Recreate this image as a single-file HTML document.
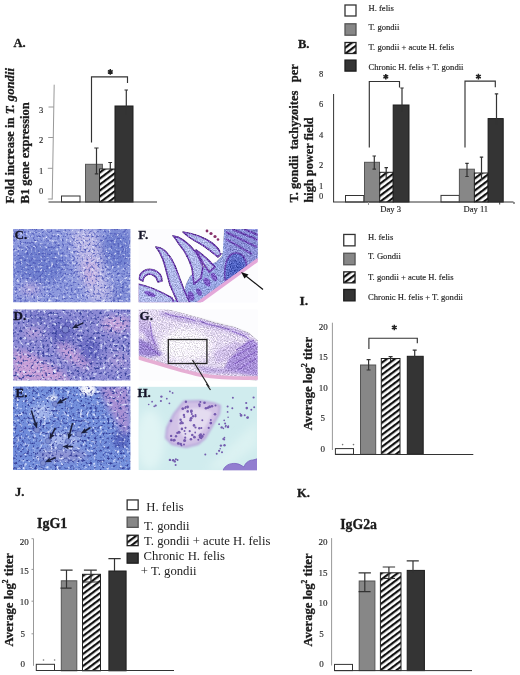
<!DOCTYPE html>
<html><head><meta charset="utf-8"><style>
html,body{margin:0;padding:0;background:#fff;width:520px;height:675px;overflow:hidden}
svg{display:block;filter:blur(0.3px)}
text{font-family:"Liberation Serif",serif}
.lab{font-weight:bold;font-size:12.5px;fill:#1a1a1a;stroke:#1a1a1a;stroke-width:0.3px}
.tk{font-size:8.5px;fill:#2a2a2a;stroke:#2a2a2a;stroke-width:0.15px}
.lg{font-size:8.6px;fill:#1e1e1e;stroke:#1e1e1e;stroke-width:0.15px}
.yl{font-weight:bold;font-size:13px;fill:#1a1a1a;stroke:#1a1a1a;stroke-width:0.3px}
.ax{stroke:#999;stroke-width:1;fill:none}
.axd{stroke:#333;stroke-width:1;fill:none}
.er{stroke:#333;stroke-width:1.2;fill:none}
.wb{fill:#fff;stroke:#333;stroke-width:1}
.gb{fill:#878787;stroke:#555;stroke-width:1}
.bb{fill:#343434;stroke:#1c1c1c;stroke-width:1}
.hb{fill:url(#hatch);stroke:#222;stroke-width:1}
.br{stroke:#333;stroke-width:1.15;fill:none}
.lsq{stroke-width:1.3}
.plab{font-weight:bold;font-size:13px;fill:#141428;stroke:#141428;stroke-width:0.3px}
</style></head><body>
<svg width="520" height="675" viewBox="0 0 520 675">
<defs>
<pattern id="hatch" patternUnits="userSpaceOnUse" width="4.8" height="10" patternTransform="rotate(53)">
<rect width="4.8" height="10" fill="#fff"/><rect width="2.2" height="10" fill="#111"/>
</pattern>
<clipPath id="clipC"><rect x="13.1" y="229" width="117.3" height="73.3"/></clipPath>
<clipPath id="clipD"><rect x="13.1" y="309.6" width="117.3" height="70.8"/></clipPath>
<clipPath id="clipE"><rect x="13.1" y="386.5" width="117.3" height="83.5"/></clipPath>
<clipPath id="clipF"><rect x="138.7" y="229" width="119.1" height="73.3"/></clipPath>
<clipPath id="clipG"><rect x="138.7" y="309.6" width="119.1" height="70.8"/></clipPath>
<clipPath id="clipH"><rect x="138.7" y="386.8" width="118.3" height="83.4"/></clipPath>
<filter id="bl4" x="-50%" y="-50%" width="200%" height="200%"><feGaussianBlur stdDeviation="4"/></filter>
<filter id="bl3" x="-50%" y="-50%" width="200%" height="200%"><feGaussianBlur stdDeviation="3"/></filter>
<filter id="bl1" x="-50%" y="-50%" width="200%" height="200%"><feGaussianBlur stdDeviation="1"/></filter>
<filter id="tx" x="0" y="0" width="100%" height="100%" color-interpolation-filters="sRGB">
<feTurbulence type="fractalNoise" baseFrequency="0.65" numOctaves="2" seed="4" result="n"/>
<feColorMatrix in="n" type="matrix" values="1 0 0 0 0 1 0 0 0 0 1 0 0 0 0 0 0 0 0 1" result="g0"/>
<feGaussianBlur in="g0" stdDeviation="0.5" result="g"/>
<feComposite in="SourceGraphic" in2="g" operator="arithmetic" k1="1.9" k2="0.05" k3="0" k4="0" result="c"/>
<feComposite in="c" in2="SourceGraphic" operator="in"/>
</filter>
<filter id="tx2" x="0" y="0" width="100%" height="100%" color-interpolation-filters="sRGB">
<feTurbulence type="fractalNoise" baseFrequency="0.85" numOctaves="2" seed="7" result="n"/>
<feColorMatrix in="n" type="matrix" values="1 0 0 0 0 1 0 0 0 0 1 0 0 0 0 0 0 0 0 1" result="g0"/>
<feGaussianBlur in="g0" stdDeviation="0.5" result="g"/>
<feComposite in="SourceGraphic" in2="g" operator="arithmetic" k1="0" k2="1" k3="0.6" k4="-0.3" result="c"/>
<feComposite in="c" in2="SourceGraphic" operator="in"/>
</filter>
<filter id="cells" x="0" y="0" width="100%" height="100%" color-interpolation-filters="sRGB">
<feTurbulence type="fractalNoise" baseFrequency="0.4" numOctaves="2" seed="11" result="n"/>
<feColorMatrix in="n" type="matrix" values="0 0 0 0 0.2  0 0 0 0 0.24  0 0 0 0 0.6  4 0 0 0 -2.1" result="dark"/>
<feTurbulence type="fractalNoise" baseFrequency="0.3" numOctaves="2" seed="23" result="n2"/>
<feColorMatrix in="n2" type="matrix" values="0 0 0 0 0.9  0 0 0 0 0.92  0 0 0 0 1  4 0 0 0 -2.3" result="light"/>
<feMerge><feMergeNode in="SourceGraphic"/><feMergeNode in="light"/><feMergeNode in="dark"/></feMerge>
<feGaussianBlur stdDeviation="0.35"/>
<feComposite in2="SourceGraphic" operator="in"/>
</filter>
<filter id="cells2" x="0" y="0" width="100%" height="100%" color-interpolation-filters="sRGB">
<feTurbulence type="fractalNoise" baseFrequency="0.45" numOctaves="2" seed="5" result="n"/>
<feColorMatrix in="n" type="matrix" values="0 0 0 0 0.3  0 0 0 0 0.34  0 0 0 0 0.72  3.5 0 0 0 -1.75" result="dark"/>
<feTurbulence type="fractalNoise" baseFrequency="0.35" numOctaves="2" seed="29" result="n2"/>
<feColorMatrix in="n2" type="matrix" values="0 0 0 0 0.93  0 0 0 0 0.94  0 0 0 0 1  3.5 0 0 0 -1.95" result="light"/>
<feMerge><feMergeNode in="SourceGraphic"/><feMergeNode in="light"/><feMergeNode in="dark"/></feMerge>
<feGaussianBlur stdDeviation="0.4"/>
<feComposite in2="SourceGraphic" operator="in"/>
</filter>
</defs>
<rect width="520" height="675" fill="#fff"/>

<!-- ================= PANEL A ================= -->
<text class="lab" x="13.5" y="47">A.</text>
<g class="yl">
<text class="yl" transform="translate(14.1,203.6) rotate(-90)" style="font-size:12.75px">Fold increase in <tspan font-style="italic">T. gondii</tspan></text>
<text class="yl" transform="translate(28.9,203.4) rotate(-90)" style="font-size:12.5px">B1 gene expression</text>
</g>
<line class="ax" x1="54.2" y1="84.7" x2="52.2" y2="199.5"/>
<path class="ax" d="M48.5,107H53.8M48.2,137.5H53.3M47.8,168.3H52.8M47.8,199H52.3"/>
<text class="tk" x="41" y="112.5" text-anchor="middle">3</text>
<text class="tk" x="41" y="143" text-anchor="middle">2</text>
<text class="tk" x="41" y="173.8" text-anchor="middle">1</text>
<text class="tk" x="41" y="193.7" text-anchor="middle">0</text>
<rect class="wb" x="61.5" y="196" width="18.5" height="6"/>
<rect class="gb" x="85.5" y="164.3" width="16.9" height="37.7"/>
<rect class="hb" x="99.5" y="169" width="15.5" height="33"/>
<rect class="bb" x="115" y="106" width="18" height="96"/>
<line class="axd" x1="48.5" y1="202" x2="157" y2="202"/>
<path class="er" d="M96.5,148V173.9M94.3,148H98.6M94.8,173.9H98.3"/>
<path class="er" d="M110.3,162.5V171M108.3,162.5H112.1"/>
<path class="er" d="M126.3,90V115M124.5,90H128"/>
<path class="br" d="M91.5,142.5V76.8H127.5V83"/>
<path d="M110.30,69.10L110.30,74.70M107.88,70.50L112.72,73.30M112.72,70.50L107.88,73.30" stroke="#222" stroke-width="1.5" fill="none"/>

<!-- ================= PANEL B ================= -->
<text class="lab" x="298" y="47.5">B.</text>
<rect class="wb lsq" x="345" y="5" width="11" height="11"/>
<rect class="gb lsq" x="345" y="23.8" width="11" height="11.4"/>
<rect class="hb lsq" x="345" y="42.5" width="11" height="11"/>
<rect class="bb lsq" x="345" y="60.1" width="11" height="11"/>
<text class="lg" x="368.5" y="10.6">H. felis</text>
<text class="lg" x="368.5" y="30.2">T. gondii</text>
<text class="lg" x="368.5" y="50.3">T. gondii + acute H. felis</text>
<text class="lg" x="368.5" y="70.2">Chronic H. felis + T. gondii</text>
<text class="yl" transform="translate(298.2,202.6) rotate(-90)" style="font-size:12.5px">T. gondii</text>
<text class="yl" transform="translate(298.2,149.6) rotate(-90)" style="font-size:12.5px">tachyzoites</text>
<text class="yl" transform="translate(298.2,82.3) rotate(-90)" style="font-size:12.5px">per</text>
<text class="yl" transform="translate(312.8,202.5) rotate(-90)" style="font-size:12.3px">high power field</text>
<text class="tk" x="321" y="77.3" text-anchor="middle">8</text>
<text class="tk" x="321" y="107.3" text-anchor="middle">6</text>
<text class="tk" x="321.2" y="138.2" text-anchor="middle">4</text>
<text class="tk" x="321.2" y="168.3" text-anchor="middle">2</text>
<text class="tk" x="321" y="188.5" text-anchor="middle">1</text>
<text class="tk" x="321" y="198.5" text-anchor="middle">0</text>
<line class="axd" x1="333.6" y1="94" x2="333.6" y2="202"/>
<!-- day 3 -->
<rect class="wb" x="345.5" y="195.5" width="18.3" height="6.5"/>
<rect class="gb" x="364.5" y="162.3" width="15" height="39.7"/>
<rect class="hb" x="379.7" y="172.3" width="13.5" height="29.7"/>
<rect class="bb" x="393.2" y="105" width="15.8" height="97"/>
<path class="er" d="M374.3,156V169.2M372.5,156H376M372.5,169.2H376"/>
<path class="er" d="M386.2,167.7V178M384.5,167.7H388"/>
<path class="er" d="M402,88V112M400.3,88H403.7"/>
<path class="br" d="M369.3,147.5V81.5H399.5V87.5"/>
<path d="M385.80,74.00L385.80,79.60M383.38,75.40L388.22,78.20M388.22,75.40L383.38,78.20" stroke="#222" stroke-width="1.5" fill="none"/>
<text class="lg" x="390.6" y="211.7" text-anchor="middle">Day 3</text>
<!-- day 11 -->
<rect class="wb" x="441" y="195.4" width="18.3" height="6.6"/>
<rect class="gb" x="459.4" y="169.2" width="15" height="32.8"/>
<rect class="hb" x="474.4" y="173" width="13.7" height="29"/>
<rect class="bb" x="488.1" y="118.6" width="15.1" height="83.4"/>
<path class="er" d="M467,163.4V176.5M465.3,163.4H468.7M465.3,176.5H468.7"/>
<path class="er" d="M481.5,157.1V180M479.8,157.1H483.2"/>
<path class="er" d="M496.5,93.8V125M494.8,93.8H498.2"/>
<path class="br" d="M465,147.4V81.1H495.3V87.3"/>
<path d="M478.40,73.80L478.40,79.40M475.98,75.20L480.82,78.00M480.82,75.20L475.98,78.00" stroke="#222" stroke-width="1.5" fill="none"/>
<text class="lg" x="475.8" y="211.7" text-anchor="middle">Day 11</text>
<line class="axd" x1="333" y1="202" x2="513.5" y2="202"/>
<path class="axd" d="M499.7,202V204.5M514,202V204"/><path class="ax" d="M368.5,202V205"/>

<!-- ================= HISTOLOGY ================= -->
<g id="histo">
<!-- C -->
<g clip-path="url(#clipC)">
<g filter="url(#cells2)">
<rect x="13" y="228" width="118" height="75" fill="#8e9ade"/>
<g filter="url(#bl4)">
<ellipse cx="40" cy="264" rx="26" ry="20" fill="#7080d0"/>
<ellipse cx="117" cy="250" rx="16" ry="20" fill="#7080d0"/>
<path d="M70,230 L96,230 L102,262 L112,300 L90,302 L80,272 Z" fill="#c0bce8"/>
<ellipse cx="90" cy="272" rx="7" ry="13" fill="#cab4e2"/>
<ellipse cx="30" cy="290" rx="10" ry="5" fill="#c0aee0"/>
<ellipse cx="120" cy="292" rx="10" ry="10" fill="#7e8ad4"/>
</g>
</g>
</g>
<!-- D -->
<g clip-path="url(#clipD)">
<g filter="url(#cells)">
<rect x="13" y="309" width="118" height="72" fill="#8c8ad4"/>
<g filter="url(#bl3)">
<path d="M13,350 L28,352 L62,372 L72,382 L13,382 Z" fill="#c8a0d8"/>
<path d="M56,343 L66,344 L92,362 L88,370 L62,357 Z" fill="#c4a0da"/>
<ellipse cx="116" cy="324" rx="14" ry="8" fill="#c8a6dc"/>
<ellipse cx="33" cy="333" rx="9" ry="5" fill="#b8a0da"/>
<ellipse cx="62" cy="332" rx="12" ry="13" fill="#6a6cc4"/>
<ellipse cx="90" cy="350" rx="11" ry="13" fill="#6a6cc4"/>
<ellipse cx="40" cy="318" rx="10" ry="6" fill="#7476c8"/>
<ellipse cx="118" cy="360" rx="10" ry="9" fill="#a698d8"/>
</g>
</g>
<circle cx="65.5" cy="329.5" r="3.6" fill="#7a82cc" stroke="#4a4aa0" stroke-width="1"/>
</g>
<!-- E -->
<g clip-path="url(#clipE)">
<g filter="url(#cells)">
<rect x="13" y="386" width="118" height="85" fill="#7490dc"/>
<g filter="url(#bl3)">
<path d="M98,386 L130,386 L130,434 L121,430 L106,404 Z" fill="#a890d4"/>
<ellipse cx="121" cy="440" rx="8" ry="9" fill="#5464c0"/>
<ellipse cx="42" cy="412" rx="11" ry="8" fill="#a6b8ec"/>
<ellipse cx="62" cy="440" rx="18" ry="8" fill="#a4b4ea"/>
<ellipse cx="62" cy="455" rx="26" ry="6" fill="#9094d4"/>
<ellipse cx="20" cy="440" rx="7" ry="16" fill="#6a86d8"/>
</g>
<g filter="url(#bl1)">
<ellipse cx="88" cy="390" rx="8" ry="5.5" fill="#f4f6fc"/>
<ellipse cx="53" cy="398" rx="4" ry="3" fill="#e0e6f8"/>
</g>
</g>
<g fill="#7e8ed0" stroke="#5866b8" stroke-width="0.7">
<circle cx="55" cy="404" r="2.6"/><circle cx="37" cy="430" r="2.8"/><circle cx="48" cy="441" r="2.8"/>
<circle cx="68" cy="441" r="2.6"/><circle cx="79" cy="434" r="3"/><circle cx="60" cy="447" r="2.6"/><circle cx="43" cy="463" r="2.6"/>
</g>
</g>
<!-- F -->
<g clip-path="url(#clipF)">
<rect x="138" y="228" width="121" height="75" fill="#fcfcfe"/>
<g filter="url(#tx2)">
<path d="M138,287 L150,290 L166,297 L178,301 L184,292 L186,284 L190,276 L198,270 L208,265 L216,262 L222,256 L224,229 L258.3,229 L258.3,259.5 L200,303 L138,303 Z" fill="#96a4e0"/>
<path d="M224,229 L258.3,229 L258.3,259 L240,268 L226,262 Z" fill="#8a90d6"/>
<g stroke="#6c3eae" stroke-width="1.7" fill="#b0b8e8" stroke-linejoin="round">
<path d="M156,247 C163,247 170,255 175,266 L184,290 L190,303 L178,303 L170,285 L165,266 C163,258 160,252 156,247 Z"/>
<path d="M173,235.8 C182,237 190,245 196,252.5 C199,257 201,262 203,267 L201,278 L194,284 L192,268 C189,258 184,250 179,244 C177,241 175,238 173,235.8 Z"/>
<path d="M183,232 C193,233 205,238 212,243 C217,247 220,251 221,254 L218,257 C212,252 206,247 199,243 C193,240 188,237 183,232 Z"/>
<path d="M196,250 C203,255 210,261 215,267 L209,272 C204,265 200,258 196,250 Z"/>
<path d="M139,279 C140,271 147,268 154,270 C159,272 162,276 162,281 L158,282 C157,277 153,274 149,274 C145,275 143,278 143,281 Z"/>
<path d="M138,284 C148,286 160,291 172,298 L174,303 L138,303 Z"/>
</g>
<g fill="#7a58c2">
<ellipse cx="207" cy="282" rx="3" ry="5" transform="rotate(-30 207 282)"/>
<ellipse cx="214" cy="277" rx="2.6" ry="4.5" transform="rotate(-30 214 277)"/>
<ellipse cx="191" cy="296" rx="3" ry="5" transform="rotate(-20 191 296)"/>
<ellipse cx="199" cy="292" rx="2.5" ry="4" transform="rotate(-25 199 292)"/>
<ellipse cx="150" cy="294" rx="6" ry="2.2" transform="rotate(20 150 294)"/>
</g>
<g stroke="#6c44b2" stroke-width="2" fill="none" opacity="0.9">
<path d="M226,232 L257,247"/><path d="M226,239 L252,254"/><path d="M232,229 L258,240"/><path d="M244,229 L258,235"/>
</g>
<path d="M225,280 C224,268 225,258 232,254 C238,251 244,255 246,262 C247,268 246,274 244,278 Z" fill="#5f6ec8" stroke="#6a48b4" stroke-width="1.6"/>
<ellipse cx="236" cy="268" rx="7" ry="8" fill="#4e60c0" filter="url(#bl1)"/>
</g>
<path d="M200,303 L258.3,260.5 L258.3,303 Z" fill="#fcfcfe"/>
<path d="M197,304 L258.3,259.5" stroke="#e4a8da" stroke-width="3.5" fill="none"/>
<path d="M222.5,229 L221.5,253" stroke="#fcfcfe" stroke-width="2.5"/>
<g fill="#86306a"><circle cx="207" cy="231" r="1.4"/><circle cx="211" cy="233.5" r="1.6"/><circle cx="215" cy="236.5" r="1.6"/><circle cx="218" cy="239.5" r="1.3"/></g>
</g>
<!-- F arrow -->
<line x1="263" y1="289.5" x2="244" y2="274.5" stroke="#111" stroke-width="1.2"/>
<path d="M241,272 L248.5,274.5 L244.5,278.5 Z" fill="#111"/>
<!-- G -->
<g clip-path="url(#clipG)">
<rect x="138" y="309" width="121" height="73" fill="#fcfcfe"/>
<g filter="url(#tx2)">
<path d="M138,309 L166,309 L182,313 L200,318 L215,323 L234,327 L249,333 L258.3,341 L258.3,381 L230,378 L200,374 L170,366 L150,359 L138,356 Z" fill="#e0d6ee"/>
<g filter="url(#bl1)">
<path d="M160,311 L200,319 L234,328 L249,334 L246,338 L232,333 L205,326 L175,320 L160,316 Z" fill="#c4b2e2"/>
<path d="M138,314 L148,318 L152,330 L146,334 L138,332 Z" fill="#c8b6e4"/>
<path d="M138,338 L150,343 L164,354 L150,357 L138,355 Z" fill="#9a84d0"/>
<path d="M142,326 L152,332 L160,348 L155,350 L146,338 Z" fill="#b8a4de"/>
<path d="M232,352 L250,339 L258.3,343 L258.3,376 L242,374 L224,369 Z" fill="#a890d8"/>
<path d="M214,352 L236,341 L244,345 L228,360 L216,364 Z" fill="#cebee6"/>
<path d="M196,366 L226,369 L240,374 L205,373 Z" fill="#bca8de"/>
</g>
<g filter="url(#bl3)"><ellipse cx="186" cy="345" rx="26" ry="16" fill="#f6f2fa"/></g>
<g stroke="#8a68c6" stroke-width="1.1" fill="none" opacity="0.85">
<path d="M165,313 C175,318 185,316 195,321"/><path d="M200,321 C210,326 220,326 230,330"/><path d="M232,331 C238,334 244,335 249,339"/>
<path d="M236,350 L254,340"/><path d="M233,357 L256,345"/><path d="M234,364 L257,351"/><path d="M238,370 L257,358"/>
<path d="M150,322 C152,330 150,338 156,346"/><path d="M142,344 C150,348 156,352 160,356"/>
</g>
</g>
<path d="M138,357.5 C160,364 180,371 200,375 C220,378 240,378.5 258.3,378" stroke="#e6aed4" stroke-width="3.6" fill="none"/>
</g>
<rect x="168.3" y="339.5" width="38.6" height="24" fill="none" stroke="#222" stroke-width="1.3"/>
<line x1="192.5" y1="360" x2="211" y2="390" stroke="#222" stroke-width="1.2"/>
<!-- H -->
<g clip-path="url(#clipH)">
<rect x="138" y="386.3" width="120.3" height="83.7" fill="#d0ecee"/>
<g filter="url(#bl4)">
<ellipse cx="150" cy="440" rx="14" ry="30" fill="#e0f4f4"/>
<path d="M205,470 L258,420 L258,445 L225,470 Z" fill="#dcf2f2"/>
</g>
<path d="M184.0,401.5 200.0,401.0 214.0,403.5 220.0,406.0 219.0,414.0 212.0,426.0 205.0,438.0 198.0,444.0 186.0,447.0 172.0,444.0 166.0,438.0 167.0,428.0 174.0,414.0Z" fill="#d2c2e6" stroke="#b8a4da" stroke-width="2" filter="url(#bl1)"/>
<path d="M180,412 C190,406 205,408 212,412 C208,425 200,436 190,440 C182,438 176,430 180,412 Z" fill="#e4dcf0" filter="url(#bl1)"/>
<path d="M223,470.5 C225,465 230,463 236,463.5 C240,464 242,466 244,467 C245,463 249,460 253,460 C255,459.5 256.5,459 258.3,458.5 L258.3,470.5 Z" fill="#927ed0" stroke="#7a62c0" stroke-width="0.8"/>
<g fill="#6a4ea8" opacity="0.9">
<circle cx="199.9" cy="435.6" r="1.4"/><circle cx="215.5" cy="405.4" r="1.0"/><circle cx="191.3" cy="411.8" r="1.2"/><circle cx="195.5" cy="427.5" r="1.1"/><circle cx="180.7" cy="444.0" r="1.3"/><circle cx="207.9" cy="407.7" r="1.2"/><circle cx="209.6" cy="406.7" r="1.5"/><circle cx="199.6" cy="406.1" r="1.1"/><circle cx="195.2" cy="432.5" r="0.9"/><circle cx="215.0" cy="414.3" r="1.3"/><circle cx="185.2" cy="408.0" r="1.0"/><circle cx="181.9" cy="428.9" r="1.3"/><circle cx="183.9" cy="414.9" r="1.2"/><circle cx="210.8" cy="423.1" r="1.4"/><circle cx="182.7" cy="423.1" r="1.2"/><circle cx="204.5" cy="402.7" r="1.3"/><circle cx="185.5" cy="427.8" r="1.1"/><circle cx="176.0" cy="436.3" r="1.2"/><circle cx="184.3" cy="417.0" r="1.1"/><circle cx="194.4" cy="437.2" r="1.4"/><circle cx="171.1" cy="435.9" r="1.2"/><circle cx="184.0" cy="444.4" r="1.0"/><circle cx="195.5" cy="415.0" r="1.0"/><circle cx="182.7" cy="408.5" r="1.1"/><circle cx="187.7" cy="411.4" r="1.3"/><circle cx="198.3" cy="439.7" r="1.0"/><circle cx="190.5" cy="420.2" r="1.3"/><circle cx="212.0" cy="406.3" r="1.3"/><circle cx="200.3" cy="437.8" r="1.0"/><circle cx="171.0" cy="420.9" r="1.3"/><circle cx="173.4" cy="440.5" r="1.0"/><circle cx="181.5" cy="421.8" r="1.0"/><circle cx="192.3" cy="435.0" r="1.3"/><circle cx="191.8" cy="414.0" r="1.0"/><circle cx="187.6" cy="407.0" r="1.4"/><circle cx="193.0" cy="416.2" r="1.2"/><circle cx="185.2" cy="437.7" r="1.1"/><circle cx="202.2" cy="436.5" r="1.4"/><circle cx="185.4" cy="433.8" r="0.9"/><circle cx="180.7" cy="423.3" r="1.3"/><circle cx="181.5" cy="445.4" r="0.9"/><circle cx="201.4" cy="427.9" r="1.0"/><circle cx="179.0" cy="432.2" r="1.5"/><circle cx="190.9" cy="439.2" r="1.3"/><circle cx="201.3" cy="438.3" r="1.0"/><circle cx="184.5" cy="430.9" r="1.0"/><circle cx="184.6" cy="440.5" r="1.5"/><circle cx="194.0" cy="425.4" r="1.3"/><circle cx="174.3" cy="440.2" r="1.4"/><circle cx="203.7" cy="434.5" r="1.0"/><circle cx="205.9" cy="408.2" r="1.3"/><circle cx="208.7" cy="427.9" r="1.1"/><circle cx="202.3" cy="420.2" r="1.0"/><circle cx="199.9" cy="437.2" r="1.1"/><circle cx="200.7" cy="434.6" r="1.3"/><circle cx="189.7" cy="431.2" r="1.1"/><circle cx="177.3" cy="432.9" r="1.1"/><circle cx="200.3" cy="402.0" r="1.0"/><circle cx="191.4" cy="410.9" r="1.4"/><circle cx="182.8" cy="408.7" r="1.3"/><circle cx="191.1" cy="418.3" r="1.4"/><circle cx="199.3" cy="428.3" r="1.2"/><circle cx="178.3" cy="443.4" r="1.4"/><circle cx="180.6" cy="419.7" r="1.2"/><circle cx="171.4" cy="439.9" r="1.3"/><circle cx="185.9" cy="401.7" r="1.2"/><circle cx="199.4" cy="404.6" r="1.3"/><circle cx="195.5" cy="416.3" r="1.1"/><circle cx="210.8" cy="420.1" r="1.0"/><circle cx="185.7" cy="406.8" r="0.9"/>
<circle cx="219.1" cy="424.2" r="0.9"/><circle cx="220.2" cy="448.8" r="0.8"/><circle cx="224.5" cy="445.2" r="1.2"/><circle cx="225.1" cy="423.5" r="1.0"/><circle cx="228.0" cy="427.1" r="1.2"/><circle cx="228.1" cy="417.3" r="0.8"/><circle cx="216.7" cy="453.7" r="1.0"/><circle cx="220.9" cy="445.6" r="1.2"/><circle cx="219.1" cy="450.8" r="1.1"/><circle cx="232.3" cy="408.2" r="1.0"/><circle cx="227.6" cy="406.5" r="1.0"/><circle cx="223.4" cy="428.4" r="0.8"/><circle cx="224.4" cy="437.7" r="0.9"/><circle cx="225.6" cy="426.7" r="0.9"/><circle cx="224.2" cy="439.6" r="1.0"/><circle cx="232.9" cy="397.8" r="1.0"/><circle cx="221.7" cy="427.4" r="1.2"/><circle cx="225.9" cy="425.6" r="0.9"/><circle cx="223.2" cy="439.0" r="0.9"/><circle cx="227.6" cy="411.9" r="0.9"/><circle cx="224.2" cy="420.3" r="0.9"/><circle cx="228.3" cy="426.2" r="0.9"/><circle cx="247.3" cy="417.7" r="0.9"/><circle cx="254.2" cy="407.3" r="1.0"/><circle cx="240.2" cy="413.8" r="0.8"/><circle cx="246.8" cy="408.1" r="1.3"/><circle cx="251.3" cy="409.7" r="1.0"/><circle cx="247.7" cy="417.5" r="1.3"/><circle cx="246.2" cy="403.0" r="1.1"/><circle cx="253.6" cy="397.5" r="1.1"/><circle cx="244.7" cy="415.2" r="1.0"/><circle cx="241.1" cy="415.4" r="1.3"/><circle cx="166.8" cy="398.7" r="0.9"/><circle cx="155.7" cy="405.6" r="1.1"/><circle cx="172.6" cy="392.9" r="0.9"/><circle cx="160.9" cy="401.0" r="1.1"/><circle cx="161.4" cy="396.6" r="1.2"/><circle cx="152.1" cy="401.7" r="0.9"/><circle cx="169.9" cy="391.4" r="0.9"/><circle cx="154.2" cy="406.4" r="0.8"/><circle cx="169.4" cy="403.3" r="0.9"/><circle cx="148.7" cy="404.5" r="0.8"/><circle cx="222.0" cy="452.2" r="1.0"/><circle cx="173.2" cy="460.3" r="1.3"/><circle cx="205.3" cy="454.6" r="1.0"/><circle cx="175.6" cy="465.0" r="1.0"/><circle cx="175.9" cy="459.2" r="1.0"/><circle cx="177.6" cy="460.0" r="0.9"/><circle cx="174.8" cy="461.4" r="1.2"/><circle cx="169.9" cy="459.9" r="1.2"/>
</g>
</g>
<!-- connector line top of H -->
<line x1="206.4" y1="384" x2="210.5" y2="390" stroke="#222" stroke-width="1.2"/>
<!-- labels -->
<text class="plab" x="14.6" y="238.7">C.</text>
<text class="plab" x="13.5" y="319.6">D.</text>
<text class="plab" x="15.5" y="396.5">E.</text>
<text class="plab" x="138.2" y="238.7">F.</text>
<text class="plab" x="139.6" y="319.6">G.</text>
<text class="plab" x="137.5" y="397">H.</text>
<!-- arrows -->
<g fill="#1a1e3a" stroke="#1a1e3a" stroke-width="1.5">
<line x1="83.3" y1="322.8" x2="76.3" y2="326.2"/><path stroke="none" d="M72,328.3L76.5,323.2L76.6,326.1L78.8,327.9Z"/>
<line x1="66.5" y1="398.4" x2="60.9" y2="401.5"/><path stroke="none" d="M56.7,403.8L61.0,398.5L61.2,401.3L63.5,403.0Z"/>
<line x1="31.3" y1="410.6" x2="35.5" y2="423.8"/><path stroke="none" d="M37,428.4L32.6,423.2L35.4,423.5L37.6,421.6Z"/>
<line x1="55.3" y1="427.9" x2="51.7" y2="435.1"/><path stroke="none" d="M49.5,439.4L50.0,432.6L51.8,434.8L54.7,434.9Z"/>
<line x1="72.6" y1="423" x2="69.5" y2="434.8"/><path stroke="none" d="M68.3,439.4L67.4,432.6L69.6,434.5L72.4,434.0Z"/>
<line x1="90.5" y1="427.5" x2="85.0" y2="431.0"/><path stroke="none" d="M80.9,433.5L84.9,428.0L85.2,430.8L87.6,432.4Z"/>
<line x1="73" y1="446.6" x2="67.3" y2="446.6"/><path stroke="none" d="M62.5,446.6L68.8,444.0L67.6,446.6L68.8,449.2Z"/>
<line x1="55.7" y1="457.5" x2="49.3" y2="460.4"/><path stroke="none" d="M44.9,462.3L49.6,457.4L49.6,460.2L51.7,462.1Z"/>
</g>
</g>

<!-- ================= PANEL I ================= -->
<text class="lab" x="299.4" y="304.6" style="font-size:13.5px">I.</text>
<rect class="wb lsq" x="343.75" y="234.45" width="11.3" height="11.4"/>
<rect class="gb lsq" x="343.75" y="253.25" width="11.3" height="11.5"/>
<rect class="hb lsq" x="343.75" y="271.85" width="11.3" height="11"/>
<rect class="bb lsq" x="343.75" y="289.45" width="11.3" height="11.4"/>
<text class="lg" x="368" y="239.8">H. felis</text>
<text class="lg" x="368" y="259.3">T. Gondii</text>
<text class="lg" x="368" y="279.6">T. gondii + acute H. felis</text>
<text class="lg" x="368" y="299.6">Chronic H. felis + T. gondii</text>
<text class="yl" transform="translate(311.9,430.3) rotate(-90)" style="font-size:12.6px">Average log<tspan font-size="8" dy="-5">2</tspan><tspan dy="5"> titer</tspan></text>
<line class="ax" x1="332.4" y1="322.7" x2="332.4" y2="450"/>
<text class="tk" x="327.8" y="329.5" text-anchor="end" style="font-size:9px">20</text>
<text class="tk" x="327.8" y="359.7" text-anchor="end" style="font-size:9px">15</text>
<text class="tk" x="327.8" y="390.7" text-anchor="end" style="font-size:9px">10</text>
<text class="tk" x="325" y="421.4" text-anchor="end" style="font-size:9px">5</text>
<text class="tk" x="325" y="451.6" text-anchor="end" style="font-size:9px">0</text>
<rect class="wb" x="335.4" y="448.6" width="18.1" height="5.7"/>
<rect class="gb" x="360.5" y="365" width="15.2" height="89.3"/>
<rect class="hb" x="381.3" y="358.5" width="18.7" height="95.8"/>
<rect class="bb" x="407.3" y="356.3" width="15.9" height="98"/>
<line class="axd" x1="335.2" y1="454.5" x2="473.3" y2="454.5"/>
<path class="er" d="M368.6,359.7V370M366.6,359.7H370.6M366.6,370H370.6"/>
<path class="er" d="M390.6,356.7V361M388.6,356.7H392.6"/>
<path class="er" d="M414.7,350.2V357M412.7,350.2H416.7"/>
<path class="br" d="M368.9,349.1V338.2H417.3V343.3"/>
<path d="M394.30,324.70L394.30,330.30M391.88,326.10L396.72,328.90M396.72,326.10L391.88,328.90" stroke="#222" stroke-width="1.5" fill="none"/>
<circle cx="342.6" cy="444.6" r="0.8" fill="#777"/>
<circle cx="353.5" cy="444.6" r="0.8" fill="#777"/>

<!-- ================= PANEL J ================= -->
<text class="lab" x="15" y="496.3">J.</text>
<text class="lab" x="37" y="527.5" style="font-size:14px">IgG1</text>
<rect class="wb lsq" x="127.15" y="499.95" width="11" height="9.8"/>
<rect class="gb lsq" x="127.15" y="517.15" width="11" height="10.2"/>
<rect class="hb lsq" x="127.15" y="535.25" width="11" height="10.4"/>
<rect class="bb lsq" x="127.15" y="553.15" width="11" height="10"/>
<text x="146.3" y="510.5" style="font-size:12.7px" fill="#222">H. felis</text>
<text x="144" y="529.8" style="font-size:12.7px" fill="#222">T. gondii</text>
<text x="144" y="545.2" style="font-size:12.7px" fill="#222">T. gondii + acute H. felis</text>
<text x="143.6" y="559.9" style="font-size:12.7px" fill="#222">Chronic H. felis</text>
<text x="140.8" y="575.2" style="font-size:12.7px" fill="#222">+ T. gondii</text>
<text class="yl" transform="translate(13.3,646.5) rotate(-90)" style="font-size:12.65px">Average log<tspan font-size="7.5" dy="-5">2</tspan><tspan dy="5"> titer</tspan></text>
<line class="ax" x1="33.5" y1="538.7" x2="33.5" y2="665.8"/>
<path class="ax" d="M31.5,538.7H33.5M31.5,569.4H33.5M31.5,601.2H33.5M31.5,633.8H33.5"/>
<text class="tk" x="28.8" y="544.8" text-anchor="end" style="font-size:9px">20</text>
<text class="tk" x="28.8" y="574.3" text-anchor="end" style="font-size:9px">15</text>
<text class="tk" x="28.8" y="605.3" text-anchor="end" style="font-size:9px">10</text>
<text class="tk" x="25" y="637" text-anchor="end" style="font-size:9px">5</text>
<text class="tk" x="25" y="666.7" text-anchor="end" style="font-size:9px">0</text>
<rect class="wb" x="36.3" y="664.3" width="18.2" height="6.2"/>
<circle cx="43.5" cy="660" r="0.8" fill="#777"/><circle cx="54.6" cy="660" r="0.8" fill="#777"/>
<rect class="gb" x="61.3" y="580.8" width="15.5" height="90"/>
<rect class="hb" x="82.5" y="574.3" width="18" height="96.5"/>
<rect class="bb" x="108.9" y="571" width="17.2" height="99.8"/>
<line class="axd" x1="36" y1="670.5" x2="174" y2="670.5"/>
<path class="er" d="M66.5,570.2V588.2M60.5,570.2H72.6M60.5,588.2H71.6"/>
<path class="er" d="M91,570.2V582M83.9,570.2H96.8M82.7,582H99"/>
<path class="er" d="M114.5,558.7V571M108.4,558.7H120.7"/>

<!-- ================= PANEL K ================= -->
<text class="lab" x="297" y="496.7">K.</text>
<text class="lab" x="340.2" y="529" style="font-size:13.8px">IgG2a</text>
<text class="yl" transform="translate(311.9,646.5) rotate(-90)" style="font-size:12.6px">Average log<tspan font-size="7.5" dy="-5">2</tspan><tspan dy="5"> titer</tspan></text>
<line class="ax" x1="331.6" y1="538.1" x2="331.6" y2="665.5"/>
<text class="tk" x="327.6" y="544.8" text-anchor="end" style="font-size:9px">20</text>
<text class="tk" x="327.4" y="575.6" text-anchor="end" style="font-size:9px">15</text>
<text class="tk" x="327.6" y="605.7" text-anchor="end" style="font-size:9px">10</text>
<text class="tk" x="323.7" y="637" text-anchor="end" style="font-size:9px">5</text>
<text class="tk" x="323.7" y="667.3" text-anchor="end" style="font-size:9px">0</text>
<rect class="wb" x="334.5" y="664.4" width="18" height="6.2"/>
<rect class="gb" x="359.2" y="581" width="15.7" height="89.6"/>
<rect class="hb" x="380.4" y="572.8" width="20.6" height="97.8"/>
<rect class="bb" x="407.2" y="570.4" width="17.2" height="100.2"/>
<line class="axd" x1="334.5" y1="670.6" x2="472" y2="670.6"/>
<path class="er" d="M364.8,572.8V591.6M358.6,572.8H370.9M358.6,591.6H370.6"/>
<path class="er" d="M388.9,567V578.5M382.7,567H395.1M382.7,578.5H395.1"/>
<path class="er" d="M413,560.8V573M406.7,560.8H418.8"/>
</svg>
</body></html>
